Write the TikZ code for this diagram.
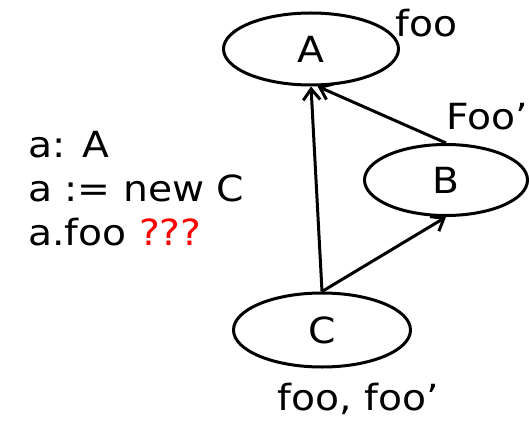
\documentclass[tikz,border=0pt]{standalone}
\usepackage{fontspec}
\setmainfont{DejaVu Sans}[FakeStretch=1.09]
\usetikzlibrary{arrows.meta,shapes.geometric}

\begin{document}
\begin{tikzpicture}[x=1pt, y=-1pt, font=\fontsize{36}{44}\selectfont, >={Straight Barb[length=11pt,width=17pt]},
  cls/.style={draw, ellipse, line width=3pt, inner sep=0pt},
  lab/.style={inner sep=0pt},
  conn/.style={->, line width=3pt}]
\useasboundingbox (0,0) rectangle (529,422);
\node[cls, minimum width=175pt, minimum height=72pt] (A) at (311,49) {A};
\node[cls, minimum width=163pt, minimum height=71pt] (B) at (446,180) {B};
\node[cls, minimum width=177pt, minimum height=74pt] (C) at (322,330) {C};
\node[lab, anchor=base west] (fooA) at (395,37) {foo};
\node[lab, anchor=base west] (fooB) at (446,130) {Foo’};
\node[lab, anchor=base] (fooC) at (358,410) {foo, foo’};
\node[lab, anchor=base west, align=left] (code) at (28,245)
  {a: A\\a := new C\\a.foo \textcolor{red}{???}};
\draw[conn] (C.north) -- (A.south);
\draw[conn] (B.north) -- (A.-80);
\draw[conn] (C.north) -- (B.south);
\end{tikzpicture}
\end{document}
